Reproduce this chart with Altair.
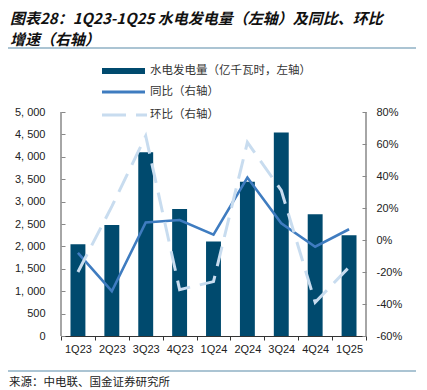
import altair as alt
import pandas as pd

quarters = ["1Q23", "2Q23", "3Q23", "4Q23", "1Q24", "2Q24", "3Q24", "4Q24", "1Q25"]
generation = [2050, 2480, 4100, 2835, 2110, 3445, 4540, 2715, 2247]
yoy = [-8, -32, 11, 12.5, 3.3, 39, 10.4, -4.2, 6.7]
qoq = [-20, 21, 65, -31, -26, 61, 31, -39, -17]

left_ticks = list(range(0, 5001, 500))
right_ticks = list(range(-60, 81, 20))

title_lines = ["图表28：1Q23-1Q25 水电发电量（左轴）及同比、环比", "增速（右轴）"]
legend_labels = ["水电发电量（亿千瓦时，左轴）", "同比（右轴）", "环比（右轴）"]
source_text = "来源：中电联、国金证券研究所"

NAVY = "#004A6E"
YOY_C = "#3F7CC0"
QOQ_C = "#C8DCEF"
CJK = "Noto Sans CJK SC"
LAT = "Liberation Sans"

W, H = 305, 224

df = pd.DataFrame({"q": quarters, "gen": generation, "yoy": yoy, "qoq": qoq})
one = pd.DataFrame({"a": [0]})

x_enc = alt.X(
    "q:N", sort=quarters,
    scale=alt.Scale(paddingInner=0, paddingOuter=0),
    axis=alt.Axis(title=None, labelAngle=0, tickBand="extent", tickSize=4,
                  tickColor="#333", domainColor="#333", labelPadding=3,
                  labelFont=LAT, labelFontSize=11, labelColor="#222"),
)

left_axis = alt.Axis(values=left_ticks, title=None, grid=False, domain=False,
                     tickSize=4, offset=-4, labelPadding=16, tickColor="#888",
                     labelExpr="replace(format(datum.value, ','), ',', ', ')",
                     labelFont=LAT, labelFontSize=11, labelColor="#222")
right_axis = alt.Axis(values=right_ticks, title=None, grid=False, domain=False,
                      orient="right", tickSize=4, offset=-4, labelPadding=10,
                      tickColor="#888", labelExpr="datum.value + '%'",
                      labelFont=LAT, labelFontSize=11, labelColor="#222")

bars = alt.Chart(df).mark_bar(color=NAVY, width=alt.RelativeBandSize(0.44)).encode(
    x=x_enc,
    y=alt.Y("gen:Q", scale=alt.Scale(domain=[0, 5000], nice=False), axis=left_axis),
)
left_group = alt.layer(bars)

yoy_line = alt.Chart(df).mark_line(color=YOY_C, strokeWidth=2.6).encode(
    x=x_enc,
    y=alt.Y("yoy:Q", scale=alt.Scale(domain=[-60, 80], nice=False), axis=right_axis),
)
qoq_line = alt.Chart(df).mark_line(color=QOQ_C, strokeWidth=3, strokeDash=[20, 10]).encode(
    x=x_enc,
    y=alt.Y("qoq:Q", scale=alt.Scale(domain=[-60, 80], nice=False), axis=right_axis),
)
right_group = alt.layer(yoy_line, qoq_line)

def vrule(xv, y1, y2, color, sw):
    return alt.Chart(one).mark_rule(color=color, strokeWidth=sw).encode(
        x=alt.value(xv), y=alt.value(y1), y2=alt.value(y2))

def hrule(x1, x2, yv, color, sw, dash=None):
    kw = dict(color=color, strokeWidth=sw)
    if dash:
        kw["strokeDash"] = dash
    return alt.Chart(one).mark_rule(**kw).encode(
        x=alt.value(x1), x2=alt.value(x2), y=alt.value(yv))

def text(xv, yv, s, size, font=CJK, weight="normal", style="normal", color="#222"):
    return alt.Chart(one).mark_text(align="left", baseline="middle", fontSize=size,
                                    font=font, fontWeight=weight, fontStyle=style,
                                    color=color).encode(
        x=alt.value(xv), y=alt.value(yv), text=alt.value(s))

decor = [
    vrule(0, 0, H, "#888", 1.5),
    vrule(W, 0, H, "#888", 1.5),
    text(-51, -93, title_lines[0], 15, weight="bold", style="italic", color="#111"),
    text(-51, -72, title_lines[1], 15, weight="bold", style="italic", color="#111"),
    hrule(-53, 355, -64, "#8FB1C4", 1.5),
    hrule(41, 84, -41, NAVY, 6),
    hrule(41, 84, -20, YOY_C, 3),
    hrule(41, 86, 3, QOQ_C, 3, dash=[24, 10]),
    text(89, -41, legend_labels[0], 11.5, color="#333"),
    text(89, -20, legend_labels[1], 11.5, color="#333"),
    text(89, 3, legend_labels[2], 11.5, color="#333"),
    hrule(-53, 355, 259, "#8FB1C4", 1.5),
    text(-52, 271, source_text, 11.5, color="#222"),
]

chart = alt.layer(left_group, right_group, *decor).resolve_scale(y="independent").properties(
    width=W, height=H, autosize="none",
    padding={"left": 53, "top": 104, "right": 50, "bottom": 54},
).configure_view(stroke=None)

chart.save("out.html", embed_options={"renderer": "svg", "actions": False})
